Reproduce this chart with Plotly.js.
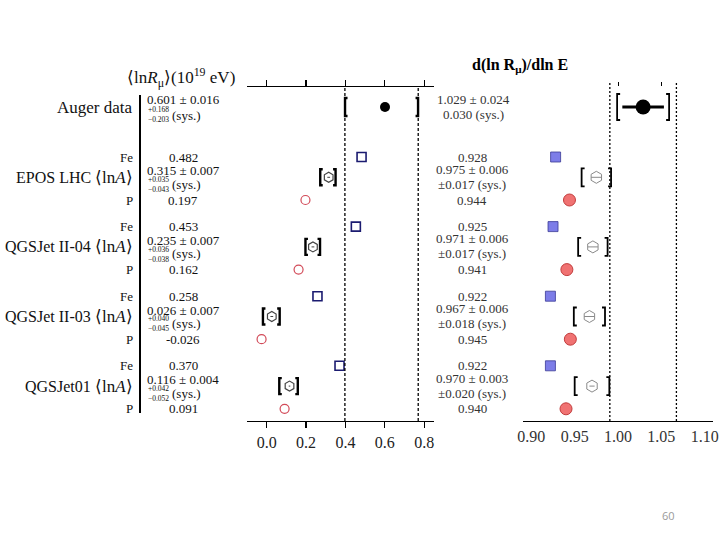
<!DOCTYPE html>
<html><head><meta charset="utf-8">
<script src="https://cdn.plot.ly/plotly-3.0.1.min.js"></script>
<style>body{margin:0;background:#fff}#c{width:720px;height:540px}</style>
</head><body><div id="c"></div><script>
// ---------- data ----------
const models = ['EPOS LHC', 'QGSJet II-04', 'QGSJet II-03', 'QGSJet01'];
const lnRFe = [0.482, 0.453, 0.258, 0.370];
const lnRP = [0.197, 0.162, -0.026, 0.091];
const lnRA = [0.315, 0.235, 0.026, 0.116];
const lnRAstat = [0.007, 0.007, 0.007, 0.004];
const lnRAsysUp = [0.035, 0.036, 0.040, 0.042];
const lnRAsysDn = [0.043, 0.038, 0.045, 0.052];
const slopeFe = [0.928, 0.925, 0.922, 0.922];
const slopeP = [0.944, 0.941, 0.945, 0.940];
const slopeA = [0.975, 0.971, 0.967, 0.970];
const slopeAstat = [0.006, 0.006, 0.006, 0.003];
const slopeAsys = [0.017, 0.017, 0.018, 0.020];
const augerLnR = 0.601, augerLnRstat = 0.016, augerLnRsysUp = 0.168, augerLnRsysDn = 0.203;
const augerSlope = 1.029, augerSlopeStat = 0.024, augerSlopeSys = 0.030;
const lnRTicks = [0.0, 0.2, 0.4, 0.6, 0.8];
const slopeTicks = [0.90, 0.95, 1.00, 1.05, 1.10];
const slopeTopTicks = [1.00, 1.05];

// ---------- layout geometry (page pixels) ----------
const W = 720, H = 540, TOP = 87, BOT = 421;
const L1 = 247, R1 = 434, L2 = 522.7, R2 = 713.3;
const xr1 = [-0.1, 0.85], xr2 = [0.89, 1.11];
const px1 = (R1 - L1) / (xr1[1] - xr1[0]);
const px2 = (R2 - L2) / (xr2[1] - xr2[0]);
const yAug = 107;
const rowFe = models.map((m, g) => 157 + 69.6 * g);
const rowA = rowFe.map(v => v + 20.3);
const rowP = rowFe.map(v => v + 43);
const X = p => p / W;
const Y = p => (BOT - p) / (BOT - TOP);

function brackets(lo, hi, ys, h, serif) {
  const x = [], y = [];
  for (let i = 0; i < ys.length; i++) {
    x.push(lo[i] + serif, lo[i], lo[i], lo[i] + serif, null, hi[i] - serif, hi[i], hi[i], hi[i] - serif, null);
    y.push(ys[i] - h, ys[i] - h, ys[i] + h, ys[i] + h, null, ys[i] - h, ys[i] - h, ys[i] + h, ys[i] + h, null);
  }
  return {x, y};
}

const serifF = 'Liberation Serif';
const traces = [];
// left panel
traces.push({x: lnRFe, y: rowFe, xaxis: 'x', yaxis: 'y', mode: 'markers', type: 'scatter',
  marker: {symbol: 'square-open', size: 9, color: '#1b1b70', line: {width: 1.6}}});
traces.push({x: lnRP, y: rowP, xaxis: 'x', yaxis: 'y', mode: 'markers', type: 'scatter',
  marker: {symbol: 'circle-open', size: 9, color: '#d24a58', line: {width: 1.2}}});
traces.push({x: lnRA, y: rowA, xaxis: 'x', yaxis: 'y', mode: 'markers', type: 'scatter',
  marker: {symbol: 'hexagon-open', size: 10, color: '#444', line: {width: 1.2}},
  error_x: {type: 'data', array: lnRAstat, width: 0, thickness: 1, color: '#444'}});
const bl = brackets(lnRA.map((v, i) => v - lnRAsysDn[i]), lnRA.map((v, i) => v + lnRAsysUp[i]), rowA, 8, 2.5 / px1);
traces.push({x: bl.x, y: bl.y, xaxis: 'x', yaxis: 'y', mode: 'lines', type: 'scatter',
  line: {color: '#000', width: 2.4}});
traces.push({x: [augerLnR], y: [yAug], xaxis: 'x', yaxis: 'y', mode: 'markers', type: 'scatter',
  marker: {symbol: 'circle', size: 10, color: '#000'},
  error_x: {type: 'data', array: [augerLnRstat], width: 0, thickness: 1.5, color: '#000'}});
const ba = brackets([augerLnR - augerLnRsysDn], [augerLnR + augerLnRsysUp], [yAug], 9, 2.5 / px1);
traces.push({x: ba.x, y: ba.y, xaxis: 'x', yaxis: 'y', mode: 'lines', type: 'scatter',
  line: {color: '#000', width: 2.4}});
// right panel
traces.push({x: slopeFe, y: rowFe, xaxis: 'x2', yaxis: 'y', mode: 'markers', type: 'scatter',
  marker: {symbol: 'square', size: 10, color: '#7d7de8', line: {width: 0.8, color: '#3a3a96'}}});
traces.push({x: slopeP, y: rowP, xaxis: 'x2', yaxis: 'y', mode: 'markers', type: 'scatter',
  marker: {symbol: 'circle', size: 12, color: '#f07272', line: {width: 1, color: '#c23c3c'}}});
traces.push({x: slopeA, y: rowA, xaxis: 'x2', yaxis: 'y', mode: 'markers', type: 'scatter',
  marker: {symbol: 'hexagon-open', size: 12, color: '#8a8a8a', line: {width: 1}},
  error_x: {type: 'data', array: slopeAstat, width: 0, thickness: 1, color: '#8a8a8a'}});
const br = brackets(slopeA.map((v, i) => v - slopeAsys[i]), slopeA.map((v, i) => v + slopeAsys[i]), rowA, 9, 3 / px2);
traces.push({x: br.x, y: br.y, xaxis: 'x2', yaxis: 'y', mode: 'lines', type: 'scatter',
  line: {color: '#000', width: 1.8}});
traces.push({x: [augerSlope], y: [yAug], xaxis: 'x2', yaxis: 'y', mode: 'markers', type: 'scatter',
  marker: {symbol: 'circle', size: 15, color: '#000'},
  error_x: {type: 'data', array: [augerSlopeStat], width: 0, thickness: 3.2, color: '#000'}});
const bra = brackets([augerSlope - augerSlopeSys], [augerSlope + augerSlopeSys], [yAug], 13, 3 / px2);
traces.push({x: bra.x, y: bra.y, xaxis: 'x2', yaxis: 'y', mode: 'lines', type: 'scatter',
  line: {color: '#000', width: 1.8}});
// top tick carrier
traces.push({x: slopeTopTicks, y: [yAug, yAug], xaxis: 'x3', yaxis: 'y', mode: 'markers', type: 'scatter',
  marker: {size: 1, color: 'rgba(0,0,0,0)'}, hoverinfo: 'skip'});

// dashed bands from Auger total uncertainty
const lnRLo = augerLnR - Math.hypot(augerLnRstat, augerLnRsysDn);
const lnRHi = augerLnR + Math.hypot(augerLnRstat, augerLnRsysUp);
const slLo = augerSlope - Math.hypot(augerSlopeStat, augerSlopeSys);
const slHi = augerSlope + Math.hypot(augerSlopeStat, augerSlopeSys);
const shapes = [
  {type: 'line', xref: 'paper', yref: 'paper', x0: X(140), x1: X(140), y0: Y(95), y1: Y(413), line: {color: '#000', width: 2}},
];
[lnRLo, lnRHi].forEach(v => shapes.push({type: 'line', xref: 'x', yref: 'paper', x0: v, x1: v, y0: 0, y1: 1,
  line: {color: '#000', width: 1.3, dash: '3px,2px'}}));
[slLo, slHi].forEach(v => shapes.push({type: 'line', xref: 'x2', yref: 'paper', x0: v, x1: v, y0: 0, y1: Y(83),
  line: {color: '#000', width: 1.3, dash: '2px,2px'}}));

// ---------- text ----------
const ann = [];
const INK = '#111', INK2 = '#333';
function t(text, px, py, size, opts) {
  ann.push(Object.assign({text, x: X(px), y: Y(py), xref: 'paper', yref: 'paper', showarrow: false,
    xanchor: 'center', yanchor: 'middle', borderpad: 0, font: {family: serifF, size, color: INK}}, opts || {}));
}
const sysStack = (up, dn) => '+' + up.toFixed(3) + '<br>−' + dn.toFixed(3);
t('⟨ln<i>R</i><sub>μ</sub>⟩(10<sup>19</sup> eV)', 181, 77, 17);
t('Auger data', 134, 107, 17, {xanchor: 'right'});
t(augerLnR.toFixed(3) + ' ± ' + augerLnRstat.toFixed(3), 183, 99.5, 13);
t(sysStack(augerLnRsysUp, augerLnRsysDn), 158, 114.5, 7.5);
t('(sys.)', 171, 115, 13, {xanchor: 'left'});
models.forEach((m, g) => {
  t('Fe', 134, rowFe[g], 13, {xanchor: 'right'});
  t(m, 92, rowA[g], 16, {xanchor: 'right'});
  t('⟨ln<i>A</i>⟩', 134, rowA[g], 17, {xanchor: 'right'});
  t('P', 134, rowP[g], 13, {xanchor: 'right'});
  t(lnRFe[g].toFixed(3), 183, rowFe[g], 13);
  t(lnRA[g].toFixed(3) + ' ± ' + lnRAstat[g].toFixed(3), 183, rowA[g] - 6.5, 13);
  t(sysStack(lnRAsysUp[g], lnRAsysDn[g]), 158, rowA[g] + 7.2, 7.5);
  t('(sys.)', 171, rowA[g] + 7, 13, {xanchor: 'left'});
  t(lnRP[g].toFixed(3), 183, rowP[g], 13);
  // right column
  const f2 = {font: {family: serifF, size: 13, color: INK2}};
  t(slopeFe[g].toFixed(3), 472, rowFe[g], 13, f2);
  t(slopeA[g].toFixed(3) + ' ± ' + slopeAstat[g].toFixed(3), 472, rowA[g] - 8, 13, f2);
  t('±' + slopeAsys[g].toFixed(3) + ' (sys.)', 472, rowA[g] + 7, 13, f2);
  t(slopeP[g].toFixed(3), 472, rowP[g], 13, f2);
});
t(augerSlope.toFixed(3) + ' ± ' + augerSlopeStat.toFixed(3), 473, 99.5, 13, {font: {family: serifF, size: 13, color: INK2}});
t(augerSlopeSys.toFixed(3) + ' (sys.)', 473, 114.5, 13, {font: {family: serifF, size: 13, color: INK2}});
t('<b>d(ln R<sub>μ</sub>)/dln E</b>', 520, 65, 16, {font: {family: serifF, size: 16, color: '#000'}});
t('60', 668, 515, 11, {font: {family: 'Open Sans', size: 11, color: '#9a9a9a'}});

const layout = {
  width: W, height: H, margin: {l: 0, r: 0, t: TOP, b: H - BOT},
  paper_bgcolor: '#fff', plot_bgcolor: 'rgba(0,0,0,0)', showlegend: false,
  xaxis: {domain: [X(L1), X(R1)], range: xr1, tickvals: lnRTicks, tickformat: '.1f',
    ticks: 'outside', ticklen: 6, tickwidth: 1.2, tickcolor: '#000', showline: true, linecolor: '#000', linewidth: 1.3,
    mirror: 'ticks', showgrid: false, zeroline: false, anchor: 'y',
    tickfont: {family: serifF, size: 16, color: '#222'}},
  xaxis2: {domain: [X(L2), X(R2)], range: xr2, tickvals: slopeTicks, tickformat: '.2f',
    ticks: '', showline: true, linecolor: '#000', linewidth: 1.3, showgrid: false, zeroline: false, anchor: 'y',
    tickfont: {family: serifF, size: 16, color: '#333'}},
  xaxis3: {overlaying: 'x2', side: 'top', range: xr2, tickvals: slopeTopTicks, showticklabels: false,
    ticks: 'outside', ticklen: 4, tickwidth: 1, tickcolor: '#000', showline: false, showgrid: false, zeroline: false, anchor: 'y'},
  yaxis: {range: [BOT, TOP], visible: false, showgrid: false, zeroline: false, fixedrange: true},
  shapes, annotations: ann
};
Plotly.newPlot('c', traces, layout, {displayModeBar: false, staticPlot: true});
</script></body></html>
